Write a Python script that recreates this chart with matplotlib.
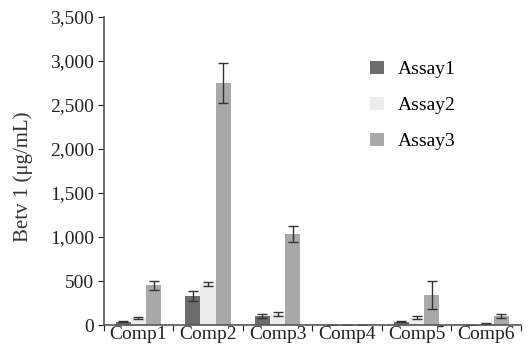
import numpy as np
import matplotlib
matplotlib.use('Agg')
import matplotlib.pyplot as plt

plt.rcParams['font.family'] = ['Liberation Serif', 'DejaVu Serif']

comps = ['Comp1', 'Comp2', 'Comp3', 'Comp4', 'Comp5', 'Comp6']
assay1 = [40, 330, 100, 0, 40, 0]
assay1_err = [10, 60, 20, 0, 10, 0]
assay2 = [75, 465, 125, 0, 85, 15]
assay2_err = [12, 25, 22, 0, 18, 5]
assay3 = [450, 2750, 1030, 0, 340, 100]
assay3_err = [50, 230, 90, 0, 160, 25]

colors = ['#6d6d6d', '#ececec', '#a9a9a9']
names = ['Assay1', 'Assay2', 'Assay3']

fig = plt.figure(figsize=(5.32, 3.56), dpi=100)
ax = fig.add_axes([0.195, 0.087, 0.784, 0.865])

x = np.arange(len(comps))
w = 0.22
series = [(assay1, assay1_err), (assay2, assay2_err), (assay3, assay3_err)]
for i, (vals, errs) in enumerate(series):
    ax.bar(x + (i - 1) * w, vals, w, color=colors[i], label=names[i],
           yerr=errs, error_kw=dict(ecolor='#333333', elinewidth=1.0, capsize=3.5, capthick=1.0))

ax.set_xlim(-0.5, len(comps) - 0.5)
ax.set_ylim(0, 3500)
ax.set_yticks(np.arange(0, 3501, 500))
ax.set_yticklabels(['{:,}'.format(v) for v in range(0, 3501, 500)])
ax.set_xticks(np.arange(-0.5, len(comps), 1.0))
ax.set_xticklabels([])
ax.set_xticks(x, minor=True)
ax.set_xticklabels(comps, minor=True)
ax.tick_params(axis='x', which='minor', length=0, pad=1)
ax.tick_params(axis='both', which='major', length=4, color='#555555')
ax.tick_params(labelsize=14, colors='#222222', which='both')
ax.tick_params(axis='y', pad=3)

for s in ['top', 'right']:
    ax.spines[s].set_visible(False)
for s in ['left', 'bottom']:
    ax.spines[s].set_color('#555555')
    ax.spines[s].set_linewidth(1.2)

ax.set_ylabel('Betv 1 (μg/mL)', fontsize=15, color='#333333')
ax.yaxis.set_label_coords(-0.17, 0.48)

ax.legend(loc='upper left', bbox_to_anchor=(0.62, 0.884), frameon=False, fontsize=14,
          labelspacing=0.95, handlelength=0.7, handleheight=0.7, handletextpad=0.7,
          borderaxespad=0)

fig.savefig('out.png', dpi=100)
